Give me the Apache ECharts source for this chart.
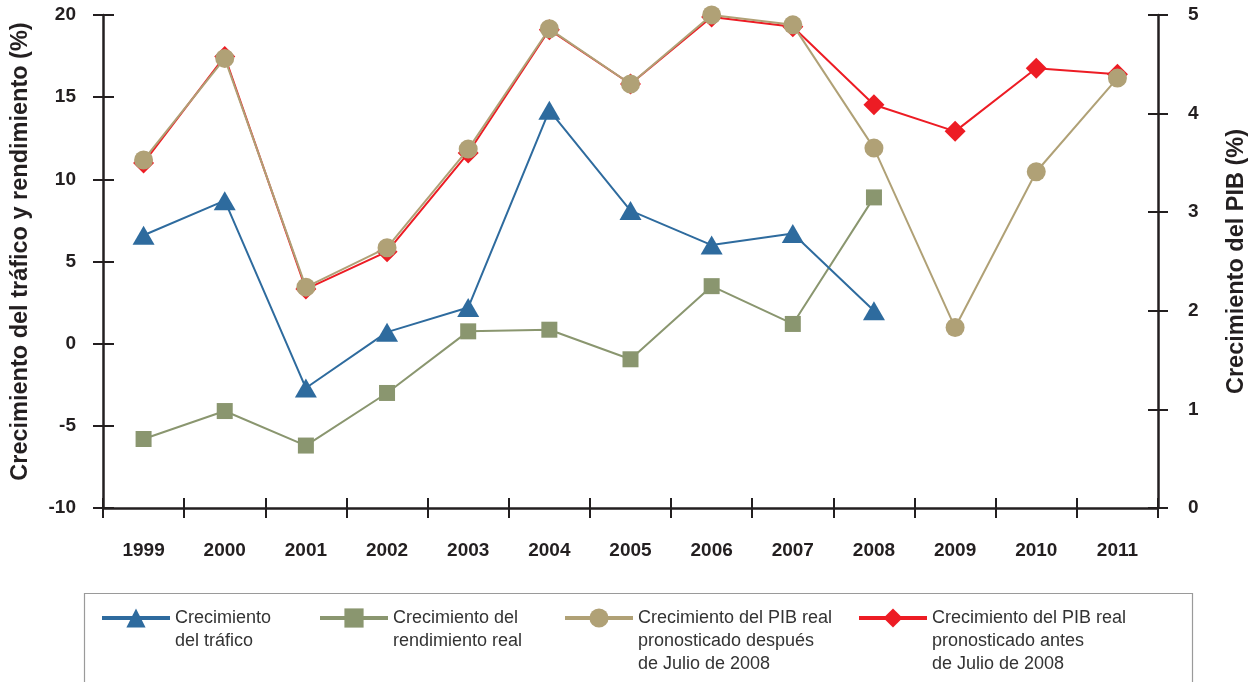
<!DOCTYPE html>
<html>
<head>
<meta charset="utf-8">
<script src="https://cdn.jsdelivr.net/npm/echarts@6/dist/echarts.min.js"></script>
<style>
html,body{margin:0;padding:0;background:#fff;}
#c{width:1251px;height:682px;}
</style>
</head>
<body>
<div id="c"></div>
<script>
const years = ['1999','2000','2001','2002','2003','2004','2005','2006','2007','2008','2009','2010','2011'];
const trafico = [6.6, 8.7, -2.7, 0.7, 2.2, 14.2, 8.1, 6.0, 6.7, 2.0, null, null, null];
const rendimiento = [-5.8, -4.1, -6.2, -3.0, 0.75, 0.85, -0.95, 3.5, 1.2, 8.9, null, null, null];
const pibDespues = [3.53, 4.56, 2.24, 2.64, 3.64, 4.86, 4.30, 5.0, 4.9, 3.65, 1.83, 3.41, 4.36];
const pibAntes = [3.50, 4.58, 2.22, 2.60, 3.60, 4.85, 4.30, 4.98, 4.88, 4.09, 3.82, 4.46, 4.40];
const leftTicks = {min: -10, max: 20, interval: 5};
const rightTicks = {min: 0, max: 5, interval: 1};
const names = {
  trafico: 'Crecimiento\ndel tráfico',
  rendimiento: 'Crecimiento del\nrendimiento real',
  despues: 'Crecimiento del PIB real\npronosticado después\nde Julio de 2008',
  antes: 'Crecimiento del PIB real\npronosticado antes\nde Julio de 2008'
};

const AX = '#231f20';
const tickFont = {fontFamily: 'Liberation Sans, Arial, sans-serif', fontWeight: 'bold', fontSize: 19, color: '#231f20'};
const nameFont = {fontFamily: 'Liberation Sans, Arial, sans-serif', fontWeight: 'bold', fontSize: 23.5, color: '#231f20'};
const legText = {fontFamily: 'Liberation Sans, Arial, sans-serif', fontSize: 18, color: '#333', lineHeight: 23};
const LEG_CENTER = 618;

function legend(name, left) {
  const lines = name.split('\n').length;
  const pad = lines - 1;
  const total = lines + pad;
  return {
    data: [name], left: left, top: LEG_CENTER - total * 23 / 2, padding: 0,
    itemWidth: 68, itemHeight: 24, orient: 'horizontal',
    lineStyle: {width: 4},
    formatter: function (n) { return '\n'.repeat(pad) + n; },
    textStyle: legText
  };
}

const chart = echarts.init(document.getElementById('c'), null, {renderer: 'canvas'});
chart.setOption({
  backgroundColor: '#fff',
  animation: false,
  grid: {left: 103, right: 93, top: 15, bottom: 174, containLabel: false, outerBoundsMode: 'none'},
  graphic: [{
    type: 'rect', left: 82, top: 591,
    shape: {width: 1108, height: 110},
    style: {fill: 'none', stroke: '#9a9a9a', lineWidth: 1.2}
  }],
  legend: [
    legend(names.trafico, 100),
    legend(names.rendimiento, 318),
    legend(names.despues, 563),
    legend(names.antes, 857)
  ],
  xAxis: [{
    type: 'category', data: years, position: 'bottom', boundaryGap: true,
    axisLine: {onZero: false, lineStyle: {color: AX, width: 2.5}},
    axisTick: {show: true, length: 10, lineStyle: {color: AX, width: 2}},
    axisLabel: Object.assign({margin: 33}, tickFont),
    splitLine: {show: false}
  }, {
    type: 'category', data: years, position: 'bottom', boundaryGap: true,
    axisLine: {show: false, onZero: false},
    axisTick: {show: true, inside: true, length: 10, lineStyle: {color: AX, width: 2}},
    axisLabel: {show: false},
    splitLine: {show: false}
  }],
  yAxis: [{
    type: 'value', position: 'left', min: leftTicks.min, max: leftTicks.max, interval: leftTicks.interval,
    name: 'Crecimiento del tráfico y rendimiento (%)', nameLocation: 'middle', nameGap: 70, nameRotate: 90,
    nameTextStyle: Object.assign({padding: [0, 0, 0, 20]}, nameFont),
    axisLine: {show: true, lineStyle: {color: AX, width: 2.5}},
    axisTick: {show: true, length: 10, lineStyle: {color: AX, width: 2}},
    axisLabel: Object.assign({margin: 27}, tickFont),
    splitLine: {show: false}
  }, {
    type: 'value', position: 'right', min: rightTicks.min, max: rightTicks.max, interval: rightTicks.interval,
    name: 'Crecimiento del PIB (%)', nameLocation: 'middle', nameGap: 67, nameRotate: 90,
    nameTextStyle: nameFont,
    axisLine: {show: true, lineStyle: {color: AX, width: 2.5}},
    axisTick: {show: true, length: 10, lineStyle: {color: AX, width: 2}},
    axisLabel: Object.assign({margin: 30, align: 'left'}, tickFont),
    splitLine: {show: false}
  }, {
    type: 'value', position: 'left', min: leftTicks.min, max: leftTicks.max, interval: leftTicks.interval,
    axisLine: {show: false},
    axisTick: {show: true, inside: true, length: 11, lineStyle: {color: AX, width: 2}},
    axisLabel: {show: false}, splitLine: {show: false}
  }, {
    type: 'value', position: 'right', min: rightTicks.min, max: rightTicks.max, interval: rightTicks.interval,
    axisLine: {show: false},
    axisTick: {show: true, inside: true, length: 10, lineStyle: {color: AX, width: 2}},
    axisLabel: {show: false}, splitLine: {show: false}
  }],
  series: [{
    name: names.trafico, type: 'line', data: trafico, yAxisIndex: 0,
    symbol: 'triangle', symbolSize: [22, 19], showSymbol: true,
    color: '#2e6b9e', lineStyle: {color: '#2e6b9e', width: 2}, itemStyle: {color: '#2e6b9e'}, z: 3
  }, {
    name: names.rendimiento, type: 'line', data: rendimiento, yAxisIndex: 0,
    symbol: 'rect', symbolSize: 16,
    color: '#8a966f', lineStyle: {color: '#8a966f', width: 2}, itemStyle: {color: '#8a966f'}, z: 2
  }, {
    name: names.antes, type: 'line', data: pibAntes, yAxisIndex: 1,
    symbol: 'diamond', symbolSize: 21,
    color: '#ed1c24', lineStyle: {color: '#ed1c24', width: 2}, itemStyle: {color: '#ed1c24'}, z: 2
  }, {
    name: names.despues, type: 'line', data: pibDespues, yAxisIndex: 1,
    symbol: 'circle', symbolSize: 19,
    color: '#b0a176', lineStyle: {color: '#b0a176', width: 2}, itemStyle: {color: '#b0a176'}, z: 3
  }]
});
</script>
</body>
</html>
